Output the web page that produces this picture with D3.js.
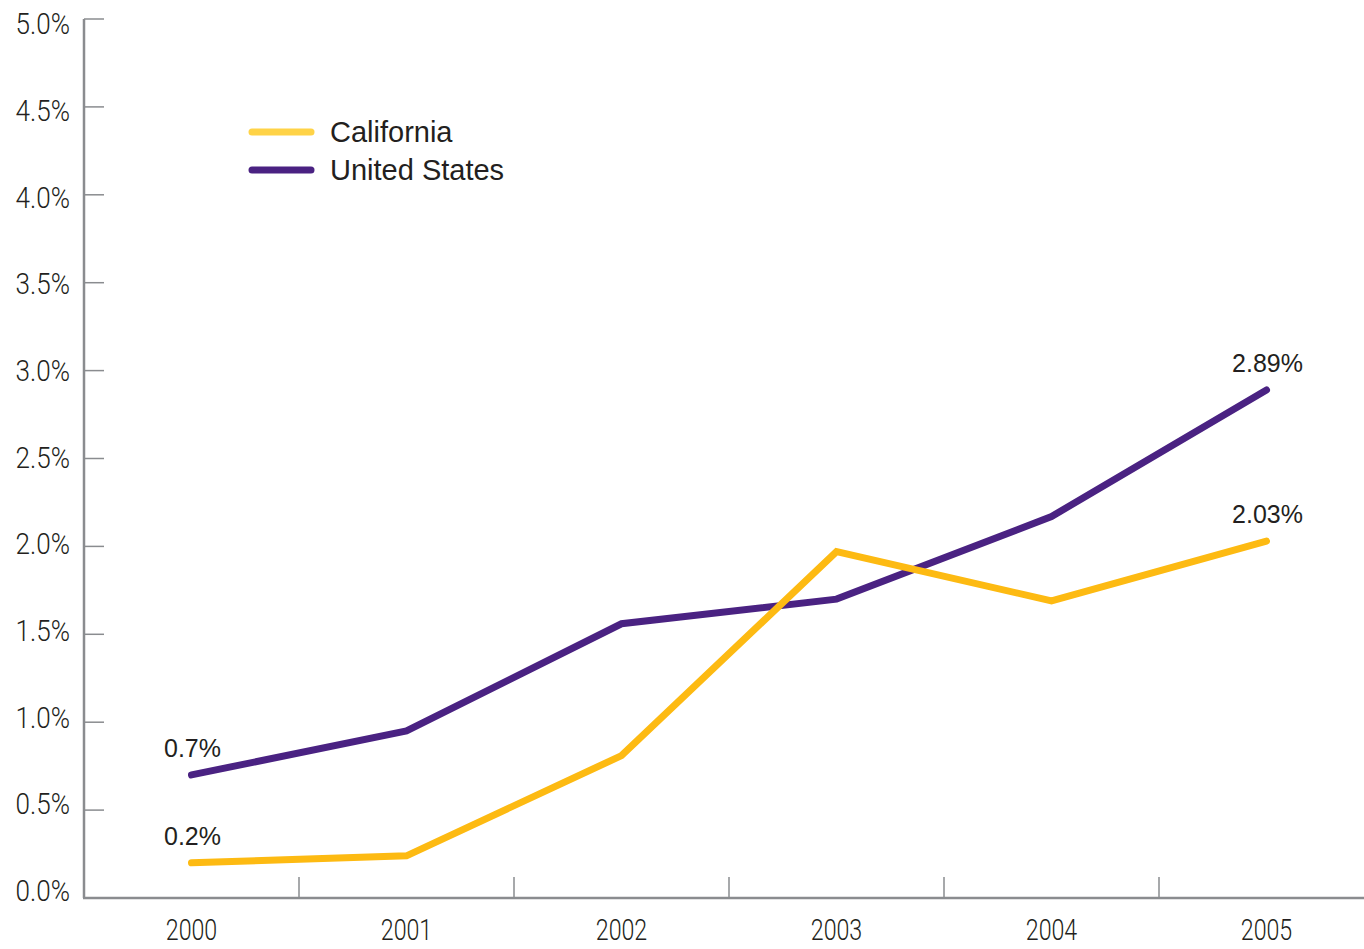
<!DOCTYPE html>
<html>
<head>
<meta charset="utf-8">
<script src="https://cdn.jsdelivr.net/npm/d3@7"></script>
<style>
  body { margin: 0; background: white; }
  svg { display: block; }
</style>
</head>
<body>
<div id="container"></div>
<script>
var years = ['2000', '2001', '2002', '2003', '2004', '2005'];
var california = [0.2, 0.24, 0.81, 1.97, 1.69, 2.03];
var unitedStates = [0.7, 0.95, 1.56, 1.70, 2.17, 2.89];
var yTicks = [0, 0.5, 1, 1.5, 2, 2.5, 3, 3.5, 4, 4.5, 5];
var seriesNames = ['California', 'United States'];
var endLabels = {
  california: [[0, '0.2%'], [5, '2.03%']],
  us: [[0, '0.7%'], [5, '2.89%']]
};

var svgWidth = 1364,
    svgHeight = 949,
    svg = d3.select('#container').append('svg').attr('width', svgWidth).attr('height', svgHeight).style('background-color', 'white');

var gold = '#fdba12', purple = '#4a2282', axisColor = '#8a8c8f', textColor = '#231f20';

var x = d3.scaleBand().domain(years).range([84, 1374]);
var y = d3.scaleLinear().domain([0, 5]).range([898, 19]);
var yLabel = d3.scaleLinear().domain([0, 5]).range([891, 24]);

// condensed light labels (squeeze Roboto Light horizontally)
function condensed(sel, anchorX, anchorY, sx) {
  sel.attr('transform', function(d, i) {
    return 'translate(' + anchorX(d, i) + ',' + anchorY(d, i) + ') scale(' + sx + ',1)';
  })
  .style('font-family', 'Roboto, sans-serif').style('font-weight', 300)
  .style('font-size', '29px').style('fill', textColor);
}

// y axis
svg.append('line').attr('x1', 84).attr('x2', 84).attr('y1', y(5)).attr('y2', y(0))
  .attr('stroke', axisColor).attr('stroke-width', 2.5);
svg.selectAll('.ytick').data(yTicks.slice(1)).enter().append('line')
  .attr('x1', 84).attr('x2', 104)
  .attr('y1', function(d) { return y(d); }).attr('y2', function(d) { return y(d); })
  .attr('stroke', axisColor).attr('stroke-width', 1.5);
svg.selectAll('.ylabel').data(yTicks).enter().append('text')
  .attr('dy', '0.35em')
  .attr('text-anchor', 'end')
  .text(function(d) { return d.toFixed(1) + '%'; })
  .call(condensed, function() { return 70; }, function(d) { return yLabel(d); }, 0.9);

// x axis
svg.append('line').attr('x1', 83).attr('x2', 1364).attr('y1', y(0)).attr('y2', y(0))
  .attr('stroke', axisColor).attr('stroke-width', 2.5);
svg.selectAll('.xtick').data(years.slice(1)).enter().append('line')
  .attr('x1', function(d) { return x(d); }).attr('x2', function(d) { return x(d); })
  .attr('y1', y(0)).attr('y2', y(0) - 21)
  .attr('stroke', axisColor).attr('stroke-width', 1.5);
svg.selectAll('.xlabel').data(years).enter().append('text')
  .attr('text-anchor', 'middle')
  .text(function(d) { return d; })
  .call(condensed, function(d) { return x(d) + x.bandwidth() / 2; }, function() { return 940; }, 0.8);

var line = d3.line()
  .x(function(d, i) { return x(years[i]) + x.bandwidth() / 2; })
  .y(function(d) { return y(d); });

svg.append('path').datum(unitedStates)
  .attr('fill', 'none').attr('stroke', purple)
  .attr('stroke-width', 7).attr('stroke-linejoin', 'miter').attr('stroke-linecap', 'round')
  .attr('d', line);

svg.append('path').datum(california)
  .attr('fill', 'none').attr('stroke', gold)
  .attr('stroke-width', 7).attr('stroke-linejoin', 'miter').attr('stroke-linecap', 'round')
  .attr('d', line);

function addLabels(list, values) {
  svg.selectAll(null).data(list).enter().append('text')
    .attr('x', function(d) { return x(years[d[0]]) + x.bandwidth() / 2 + 1; })
    .attr('y', function(d) { return y(values[d[0]]) - 18; })
    .attr('text-anchor', 'middle')
    .style('font-family', "'Liberation Sans', Arial, sans-serif").style('font-size', '25px').style('fill', textColor)
    .text(function(d) { return d[1]; });
}
addLabels(endLabels.us, unitedStates);
addLabels(endLabels.california, california);

// legend
var legend = svg.append('g').attr('transform', 'translate(252,132)');
var legendColors = ['#ffd347', purple];
seriesNames.forEach(function(name, i) {
  legend.append('line').attr('x1', 0).attr('x2', 59).attr('y1', i * 38).attr('y2', i * 38)
    .attr('stroke', legendColors[i]).attr('stroke-width', 7).attr('stroke-linecap', 'round');
  legend.append('text').attr('x', 78).attr('y', i * 38).attr('dy', '0.36em')
    .style('font-family', "'Liberation Sans', Arial, sans-serif").style('font-size', '29px').style('fill', textColor)
    .text(name);
});
</script>
</body>
</html>
